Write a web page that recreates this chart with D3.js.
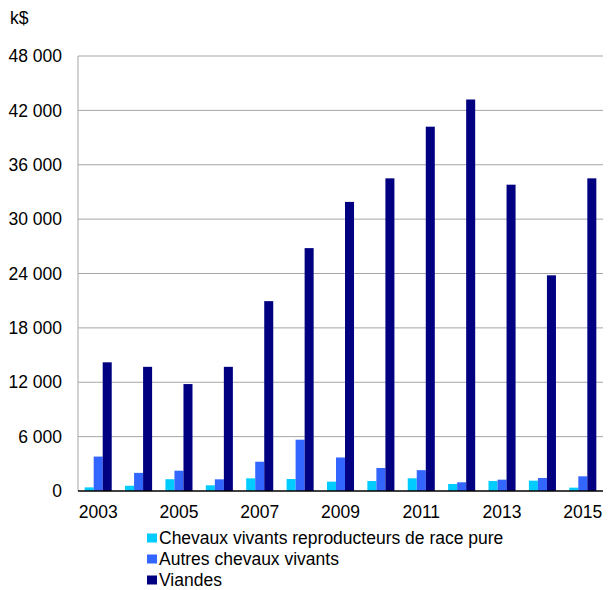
<!DOCTYPE html>
<html>
<head>
<meta charset="utf-8">
<script src="https://cdn.jsdelivr.net/npm/d3@7"></script>
<style>
  body { margin: 0; background: #fff; }
  text { font-family: "Liberation Sans", Arial, sans-serif; fill: #000; }
</style>
</head>
<body>
<div id="chart"></div>
<script>
var years = ["2003", "2004", "2005", "2006", "2007", "2008", "2009", "2010", "2011", "2012", "2013", "2014", "2015"];
var seriesNames = ["Chevaux vivants reproducteurs de race pure", "Autres chevaux vivants", "Viandes"];
var chevauxRace = [400, 580, 1300, 630, 1400, 1320, 1030, 1100, 1400, 770, 1100, 1140, 370];
var autresChevaux = [3800, 2000, 2240, 1290, 3230, 5660, 3700, 2540, 2300, 960, 1250, 1430, 1620];
var viandes = [14200, 13700, 11800, 13700, 20950, 26800, 31900, 34500, 40200, 43200, 33800, 23800, 34500];
var yTicks = [0, 6000, 12000, 18000, 24000, 30000, 36000, 42000, 48000];
var colors = ["#00ccff", "#3366ff", "#000080"];

var margin = { top: 56, right: 5, bottom: 99, left: 78 };
var width = 608 - margin.left - margin.right;
var height = 590 - margin.top - margin.bottom;

var svg = d3.select("#chart").append("svg")
    .attr("width", 608)
    .attr("height", 590);

var g = svg.append("g")
    .attr("transform", "translate(" + margin.left + "," + margin.top + ")");

var x = d3.scaleBand()
    .domain(years)
    .range([0, width])
    .paddingInner(0.33)
    .paddingOuter(0.165);

var xs = d3.scaleBand()
    .domain([0, 1, 2])
    .range([0, x.bandwidth()]);

var y = d3.scaleLinear()
    .domain([0, 48000])
    .range([height, 0]);

var fmt = function (d) { return d3.format(",")(d).replace(/,/g, " "); };

// gridlines
g.selectAll(".grid")
    .data(yTicks.slice(1))
    .enter()
    .append("line")
    .attr("x1", 0)
    .attr("x2", width)
    .attr("y1", function (d) { return y(d); })
    .attr("y2", function (d) { return y(d); })
    .attr("stroke", "#a6a6a6")
    .attr("stroke-width", 1);

// y axis line
g.append("line")
    .attr("x1", 0).attr("x2", 0)
    .attr("y1", 0).attr("y2", height)
    .attr("stroke", "#a6a6a6");

// y labels
g.selectAll(".ylab")
    .data(yTicks)
    .enter()
    .append("text")
    .attr("x", -16)
    .attr("y", function (d) { return y(d); })
    .attr("dy", "0.35em")
    .attr("text-anchor", "end")
    .style("font-size", "17.5px")
    .text(fmt);

svg.append("text")
    .attr("x", 10)
    .attr("y", 24)
    .style("font-size", "17.5px")
    .text("k$");

var table = years.map(function (yr, i) {
    return { year: yr, values: [chevauxRace[i], autresChevaux[i], viandes[i]] };
});

var groups = g.selectAll(".year")
    .data(table)
    .enter()
    .append("g")
    .attr("transform", function (d) { return "translate(" + x(d.year) + ",0)"; });

groups.selectAll("rect")
    .data(function (d) { return d.values; })
    .enter()
    .append("rect")
    .attr("x", function (d, i) { return xs(i); })
    .attr("y", function (d) { return y(d); })
    .attr("width", xs.bandwidth())
    .attr("height", function (d) { return height - y(d); })
    .attr("fill", function (d, i) { return colors[i]; });

// baseline
g.append("line")
    .attr("x1", 0).attr("x2", width)
    .attr("y1", height).attr("y2", height)
    .attr("stroke", "#000")
    .attr("stroke-width", 1.5);

// x labels (every other year)
g.selectAll(".xlab")
    .data(years.filter(function (d, i) { return i % 2 === 0; }))
    .enter()
    .append("text")
    .attr("x", function (d) { return x(d) + x.bandwidth() / 2; })
    .attr("y", height + 27)
    .attr("text-anchor", "middle")
    .style("font-size", "17.5px")
    .text(function (d) { return d; });

// legend
var legend = svg.selectAll(".legend")
    .data(seriesNames)
    .enter()
    .append("g")
    .attr("transform", function (d, i) { return "translate(147," + (538 + i * 21) + ")"; });

legend.append("rect")
    .attr("x", 0)
    .attr("y", -4.5)
    .attr("width", 10)
    .attr("height", 9)
    .attr("fill", function (d, i) { return colors[i]; });

legend.append("text")
    .attr("x", 12)
    .attr("y", 0)
    .attr("dy", "0.35em")
    .style("font-size", "17.5px")
    .text(function (d) { return d; });
</script>
</body>
</html>
